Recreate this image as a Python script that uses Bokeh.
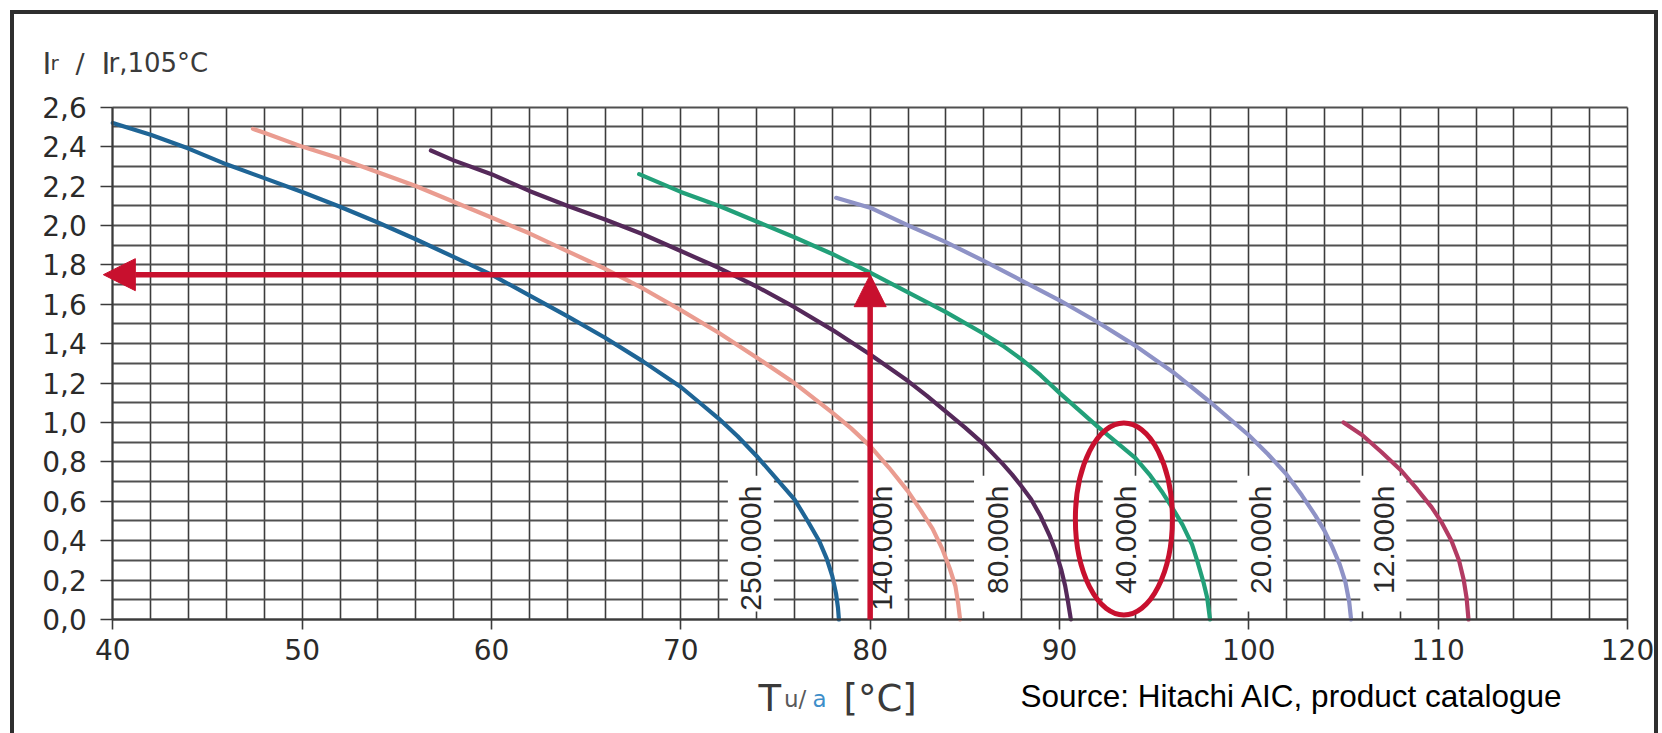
import math
from bokeh.plotting import figure
from bokeh.models import (Range1d, FixedTicker, CustomJSTickFormatter, Arrow,
                          NormalHead, Label)
from bokeh.core.properties import value
from bokeh.embed import file_html
from bokeh.resources import INLINE

# ---------------- data ----------------
series_names = ["250.000h", "140.000h", "80.000h", "40.000h", "20.000h", "12.000h"]

t_250k = [40, 42, 44, 46, 48, 50, 52, 54, 56, 58, 60, 62, 64, 66, 68, 70, 71, 72, 73, 74, 75, 76, 76.7, 77.3, 77.7, 78.0, 78.2, 78.3, 78.35]
r_250k = [2.52, 2.46, 2.39, 2.31, 2.24, 2.17, 2.095, 2.015, 1.93, 1.84, 1.75, 1.645, 1.54, 1.43, 1.31, 1.18, 1.10, 1.02, 0.93, 0.83, 0.72, 0.61, 0.50, 0.40, 0.31, 0.22, 0.13, 0.06, 0.0]

t_140k = [47.4, 48, 50, 52, 54, 56, 58, 60, 62, 64, 66, 68, 70, 72, 74, 76, 78, 79, 80, 81, 82, 82.7, 83.3, 83.8, 84.2, 84.5, 84.65, 84.75]
r_140k = [2.49, 2.47, 2.40, 2.34, 2.27, 2.20, 2.12, 2.04, 1.96, 1.87, 1.78, 1.68, 1.57, 1.455, 1.33, 1.20, 1.05, 0.97, 0.88, 0.77, 0.65, 0.55, 0.46, 0.36, 0.26, 0.17, 0.08, 0.0]

t_80k = [56.8, 58, 60, 62, 64, 66, 68, 70, 72, 74, 76, 78, 80, 82, 83, 84, 85, 86, 87, 87.5, 88, 88.5, 89, 89.5, 89.8, 90.1, 90.3, 90.45, 90.55, 90.6]
r_80k = [2.38, 2.33, 2.26, 2.175, 2.10, 2.03, 1.955, 1.87, 1.785, 1.69, 1.585, 1.47, 1.345, 1.21, 1.135, 1.055, 0.975, 0.89, 0.79, 0.735, 0.675, 0.61, 0.525, 0.42, 0.345, 0.25, 0.17, 0.09, 0.03, 0.0]

t_40k = [67.8, 70, 72, 74, 76, 78, 80, 82, 84, 86, 87, 88, 89, 90, 91, 92, 93, 94, 94.8, 95.4, 96, 96.5, 97, 97.3, 97.6, 97.8, 97.95]
r_40k = [2.26, 2.17, 2.10, 2.02, 1.94, 1.855, 1.76, 1.66, 1.56, 1.45, 1.39, 1.32, 1.24, 1.15, 1.065, 0.98, 0.90, 0.82, 0.73, 0.65, 0.56, 0.48, 0.38, 0.29, 0.19, 0.11, 0.0]

t_20k = [78.2, 80, 82, 84, 86, 88, 90, 92, 94, 96, 98, 100, 101, 102, 102.8, 103.5, 104, 104.4, 104.8, 105.1, 105.3, 105.4]
r_20k = [2.14, 2.09, 2.00, 1.915, 1.82, 1.72, 1.62, 1.51, 1.39, 1.255, 1.10, 0.935, 0.84, 0.735, 0.63, 0.53, 0.45, 0.37, 0.28, 0.19, 0.09, 0.0]

t_12k = [105.0, 106, 107, 108, 108.9, 109.65, 110.2, 110.7, 111.1, 111.35, 111.5, 111.6]
r_12k = [1.0, 0.935, 0.85, 0.76, 0.66, 0.57, 0.49, 0.40, 0.30, 0.20, 0.11, 0.0]

series_t = [t_250k, t_140k, t_80k, t_40k, t_20k, t_12k]
series_r = [r_250k, r_140k, r_80k, r_40k, r_20k, r_12k]
series_colors = ["#1f6596", "#ea9c90", "#55295a", "#22a079", "#8e92c6", "#b23b63"]

label_x = [73.7, 80.6, 86.7, 93.5, 100.6, 107.1]
label_top = [0.68] * 6
label_box_y = [0.385] * 6

x_ticks = [40, 50, 60, 70, 80, 90, 100, 110, 120]
y_ticks = [0.0, 0.2, 0.4, 0.6, 0.8, 1.0, 1.2, 1.4, 1.6, 1.8, 2.0, 2.2, 2.4, 2.6]

arrow_T = 80
arrow_ratio = 1.75
highlight_T = [93.4]
highlight_ratio = [0.51]

RED = "#c8102e"
FONT = "Liberation Sans"
WIDE = "DejaVu Sans"

# ---------------- figure ----------------
# The frame covers the whole canvas; axes are pinned with fixed_location so that
# the titles and the source note (drawn as Labels) are not clipped away.
p = figure(width=1662, height=733, title=None,
           x_range=Range1d(34.069, 121.847), y_range=Range1d(-0.5786, 3.1415),
           output_backend="svg", toolbar_location=None,
           min_border_left=0, min_border_right=0,
           min_border_top=0, min_border_bottom=0)
p.background_fill_color = None
p.border_fill_color = None
p.outline_line_color = None

frame_col = "#2e2e2e"
p.styles = {"background": (
    f"linear-gradient({frame_col},{frame_col}) 10px 10px / 4px 723px no-repeat, "
    f"linear-gradient({frame_col},{frame_col}) 10px 10px / 1648px 4px no-repeat, "
    f"linear-gradient({frame_col},{frame_col}) 1654px 10px / 4px 723px no-repeat, "
    "#ffffff")}

# grid (limited to the chart area)
xg, yg = p.xgrid[0], p.ygrid[0]
grid_x = [40 + 2 * i for i in range(41)]
grid_y = [round(0.1 * i, 1) for i in range(27)]
if "cross_bounds" in xg.properties():
    xg.ticker = FixedTicker(ticks=grid_x)
    yg.ticker = FixedTicker(ticks=grid_y)
    xg.bounds = (40, 120)
    xg.cross_bounds = (0, 2.6)
    yg.bounds = (0, 2.6)
    yg.cross_bounds = (40, 120)
    xg.grid_line_color = "#3c3c3c"
    xg.grid_line_width = 1.6
    yg.grid_line_color = "#505050"
    yg.grid_line_width = 1.9
else:
    xg.visible = False
    yg.visible = False
    p.segment(x0=grid_x, y0=[0] * len(grid_x), x1=grid_x, y1=[2.6] * len(grid_x),
              line_color="#3c3c3c", line_width=1.6)
    p.segment(x0=[40] * len(grid_y), y0=grid_y, x1=[120] * len(grid_y), y1=grid_y,
              line_color="#505050", line_width=1.9)

# axes
p.xaxis.fixed_location = 0
p.yaxis.fixed_location = 40
p.xaxis.bounds = (40, 120)
p.yaxis.bounds = (0, 2.6)
for ax in (p.xaxis[0], p.yaxis[0]):
    ax.axis_line_color = "#3a3a3a"
    ax.axis_line_width = 2
    ax.major_tick_line_color = "#3a3a3a"
    ax.major_tick_line_width = 1.6
    ax.major_tick_in = 0
    ax.minor_tick_line_color = None
    ax.major_label_text_font = WIDE
    ax.major_label_text_color = "#2a2a2a"
    ax.major_label_text_font_size = "28px"

p.xaxis.ticker = FixedTicker(ticks=x_ticks)
p.xaxis.major_tick_out = 10
p.xaxis.major_label_standoff = 10

p.yaxis.ticker = FixedTicker(ticks=y_ticks)
p.yaxis.major_tick_out = 12
p.yaxis.major_label_standoff = 14
p.yaxis.formatter = CustomJSTickFormatter(code="return tick.toFixed(1).replace('.', ',');")

# white boxes behind the curve labels (interrupt the grid)
p.rect(x=label_x, y=label_box_y, width=46, height=0.69, width_units="screen",
       fill_color="white", line_color=None)

# curves
for t, r, c in zip(series_t, series_r, series_colors):
    p.line(t, r, line_color=c, line_width=4.2, line_join="round", line_cap="round")

# rotated curve labels
p.text(x=label_x, y=label_top, text=series_names, angle=math.pi / 2,
       text_align="right", text_baseline="middle",
       text_font=value(FONT), text_font_size="30px", text_color="#2a2a2a")

# highlight ellipse
p.ellipse(x=highlight_T, y=highlight_ratio, width=97, height=192,
          width_units="screen", height_units="screen",
          fill_color=None, line_color=RED, line_width=5)

# red arrows
p.add_layout(Arrow(end=NormalHead(size=32, fill_color=RED, line_color=RED, line_width=1),
                   x_start=arrow_T, y_start=0, x_end=arrow_T, y_end=arrow_ratio,
                   line_color=RED, line_width=5.5))
p.add_layout(Arrow(end=NormalHead(size=32, fill_color=RED, line_color=RED, line_width=1),
                   x_start=arrow_T, y_start=arrow_ratio, x_end=39.5, y_end=arrow_ratio,
                   line_color=RED, line_width=5.5))

def add_text(txt, x, y, fs, col, font=WIDE):
    p.add_layout(Label(x=x, y=y, text=txt, text_font=font, text_font_size=fs,
                       text_color=col, text_baseline="alphabetic", text_align="left"))

# y-axis title: I_r / I_r,105°C
title_col = "#3a3a3a"
ty = 2.822
add_text("I", 36.287, ty, "30px", title_col)
add_text("r", 36.710, ty, "20px", title_col)
add_text("/", 38.030, ty, "27px", title_col)
add_text("I", 39.403, ty, "30px", title_col)
add_text("r,105°C", 39.773, ty, "26px", title_col)

# x-axis title: T_u/a [°C]
xy = -0.401
add_text("T", 74.105, xy, "37px", "#3a3a3a")
add_text("u/", 75.45, xy, "23px", "#5a5a5a")
add_text("a", 76.95, xy, "23px", "#3d8ec9")
add_text("[°C]", 78.594, xy, "37px", "#3a3a3a")

# source note
add_text("Source: Hitachi AIC, product catalogue", 87.94, -0.386, "31.5px", "black", font=FONT)

open("out.html", "w").write(file_html(p, INLINE))
